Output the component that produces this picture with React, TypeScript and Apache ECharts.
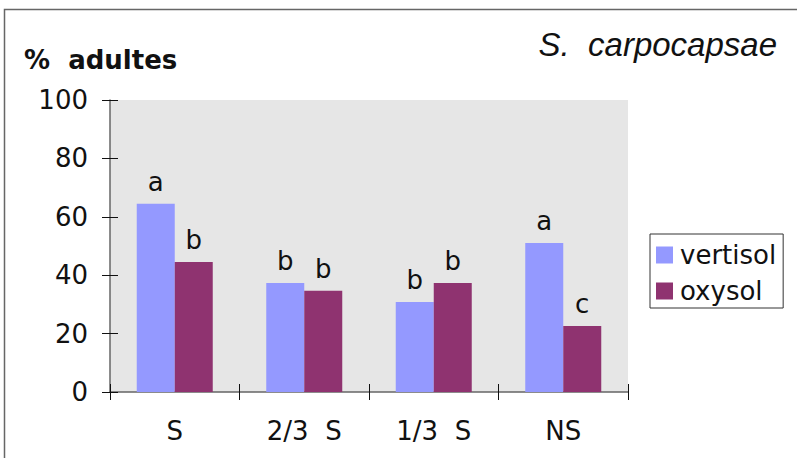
import React, { useEffect, useRef } from "react";
import * as echarts from "echarts";

const categories = ["S", "2/3  S", "1/3  S", "NS"];
const vertisol = [64.5, 37.3, 30.8, 51];
const oxysol = [44.5, 34.7, 37.3, 22.6];
const vertisolLetters = ["a", "b", "b", "a"];
const oxysolLetters = ["b", "b", "b", "c"];
const yTicks = [0, 20, 40, 60, 80, 100];

const FONT = "DejaVu Sans";

export default function App() {
  const ref = useRef<HTMLDivElement>(null);
  useEffect(() => {
    if (!ref.current) return;
    const chart = echarts.init(ref.current, undefined, { renderer: "svg" });
    const baseY = {
      type: "value" as const,
      min: yTicks[0],
      max: yTicks[yTicks.length - 1],
      interval: 20,
      splitLine: { show: false },
    };
    const baseX = {
      type: "category" as const,
      data: categories,
      splitLine: { show: false },
    };
    const letterLabel = (letters: string[]) => ({
      show: true,
      position: "top" as const,
      distance: 9,
      fontFamily: FONT,
      fontSize: 26,
      color: "#111",
      formatter: (p: any) => letters[p.dataIndex],
    });
    chart.setOption({
      animation: false,
      backgroundColor: "#fff",
      textStyle: { fontFamily: FONT },
      grid: {
        left: 110,
        top: 100,
        right: 169,
        bottom: 66,
        show: true,
        backgroundColor: "#e6e6e6",
        borderWidth: 0,
      },
      graphic: [
        {
          type: "rect",
          shape: { x: 4.5, y: 9.5, width: 900, height: 600 },
          style: { fill: "none", stroke: "#666", lineWidth: 1.5 },
          z: -1,
        },
        {
          type: "text",
          left: 24,
          top: 47,
          style: {
            text: "%  adultes",
            fontFamily: FONT,
            fontWeight: "bold",
            fontSize: 26,
            fill: "#111",
          },
        },
        {
          type: "text",
          right: 20,
          top: 28,
          style: {
            text: "S.  carpocapsae",
            fontFamily: "Liberation Sans",
            fontStyle: "italic",
            fontSize: 33,
            fill: "#111",
          },
        },
      ],
      legend: {
        orient: "vertical",
        left: 650,
        top: 234,
        itemWidth: 17,
        itemHeight: 17,
        itemGap: 10,
        padding: [8, 7, 4, 6],
        borderColor: "#333",
        borderWidth: 1,
        backgroundColor: "#fff",
        icon: "rect",
        textStyle: { fontFamily: FONT, fontSize: 26, color: "#111", padding: [0, 0, 0, 2] },
        data: ["vertisol", "oxysol"],
      },
      xAxis: [
        {
          ...baseX,
          axisLine: { show: true, lineStyle: { color: "#666", width: 1.5 } },
          axisTick: { show: true, inside: false, length: 8, lineStyle: { color: "#111" } },
          axisLabel: { fontFamily: FONT, fontSize: 26, color: "#111", margin: 26 },
        },
        {
          ...baseX,
          position: "bottom",
          axisLine: { show: false },
          axisTick: { show: true, inside: true, length: 8, lineStyle: { color: "#111" } },
          axisLabel: { show: false },
        },
      ],
      yAxis: [
        {
          ...baseY,
          axisLine: { show: true, lineStyle: { color: "#666", width: 1.5 } },
          axisTick: { show: true, inside: false, length: 8, lineStyle: { color: "#111" } },
          axisLabel: { fontFamily: FONT, fontSize: 26, color: "#111", margin: 22 },
        },
        {
          ...baseY,
          position: "left",
          axisLine: { show: false },
          axisTick: { show: true, inside: true, length: 8, lineStyle: { color: "#111" } },
          axisLabel: { show: false },
        },
      ],
      series: [
        {
          name: "vertisol",
          type: "bar",
          data: vertisol,
          barWidth: 38,
          barGap: "0%",
          itemStyle: { color: "#9499ff" },
          label: letterLabel(vertisolLetters),
        },
        {
          name: "oxysol",
          type: "bar",
          data: oxysol,
          barWidth: 38,
          barGap: "0%",
          itemStyle: { color: "#8f3370" },
          label: letterLabel(oxysolLetters),
        },
      ],
    });
    return () => chart.dispose();
  }, []);
  return <div ref={ref} style={{ width: 797, height: 458, position: "absolute", left: 0, top: 0 }} />;
}
